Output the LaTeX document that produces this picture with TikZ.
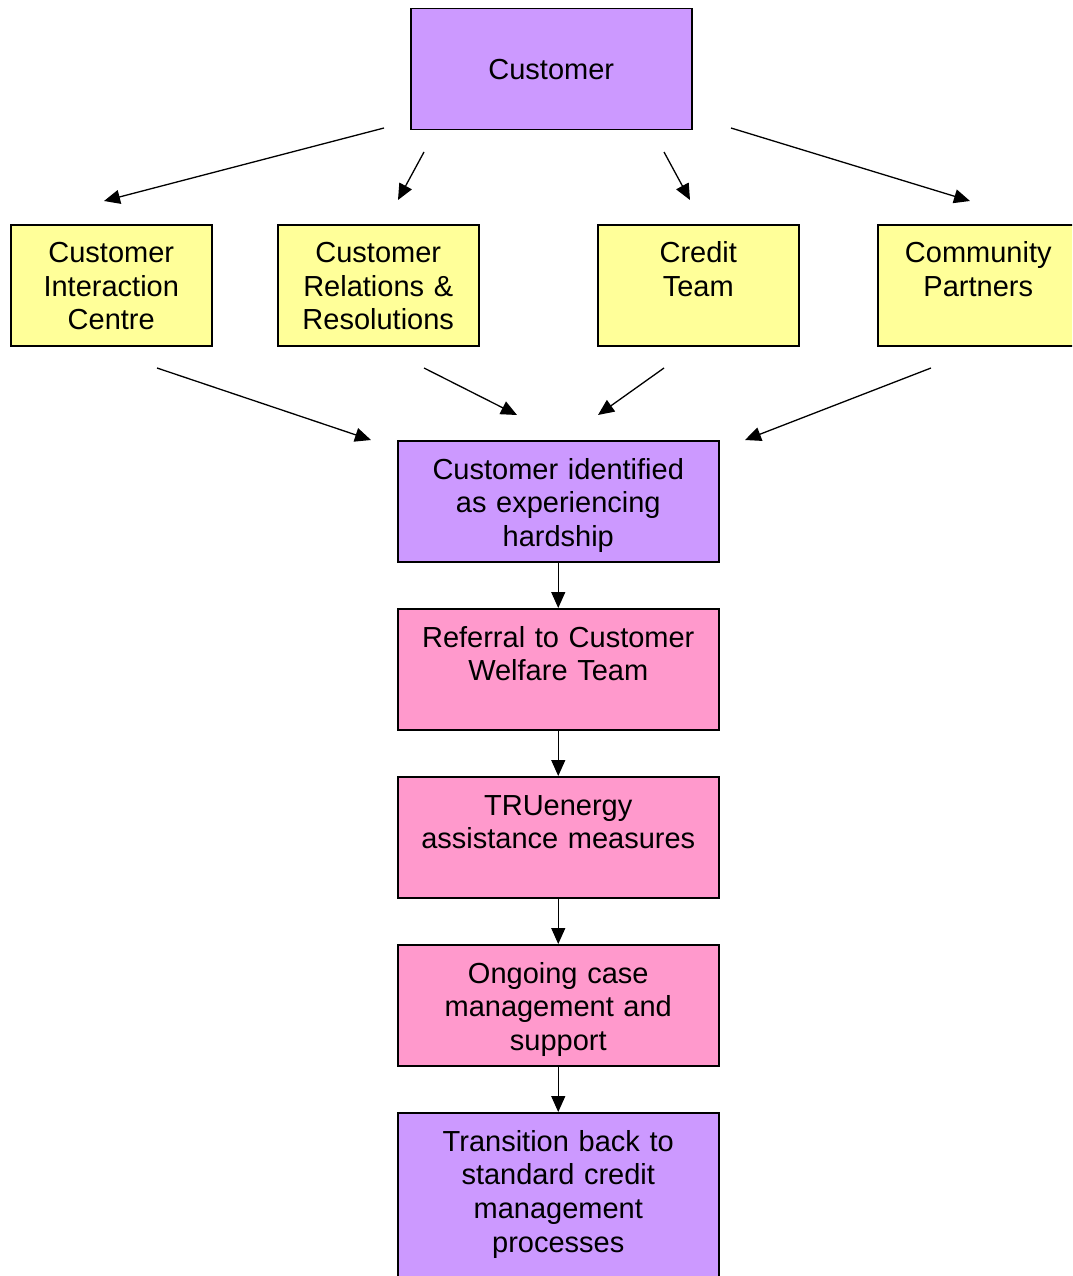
\documentclass[tikz,border=0pt]{standalone}
\usepackage{fontspec}
\setmainfont{Liberation Sans}
\usetikzlibrary{arrows.meta,calc}
\definecolor{lilac}{HTML}{CC99FF}
\definecolor{paleyellow}{HTML}{FFFF99}
\definecolor{rosepink}{HTML}{FF99CC}
\begin{document}
\begin{tikzpicture}[x=1pt,y=-1pt,
  box/.style={draw=black,line width=1.5pt,inner sep=0pt,minimum width=#1,minimum height=121pt,anchor=north west},
  box/.default=201pt,
  txt/.style={font=\fontsize{29}{33.7}\selectfont,text width=#1,align=center,inner sep=0pt,anchor=base},
  txt/.default=201pt,
  arr/.style={line width=1.3pt,-{Triangle[length=16pt,width=14pt]}}]
\useasboundingbox (0,0) rectangle (1072,1276);
\clip (0,0) rectangle (1072,1276);
% boxes
\node[box=281pt,fill=lilac] (cust) at (410,8) {};
\node[box,fill=paleyellow] (cic) at (10,224) {};
\node[box,fill=paleyellow] (crr) at (277,224) {};
\node[box,fill=paleyellow] (cred) at (597,224) {};
\node[box,fill=paleyellow] (comm) at (877,224) {};
\node[box=321pt,fill=lilac] (hard) at (397,440) {};
\node[box=321pt,fill=rosepink] (refer) at (397,608) {};
\node[box=321pt,fill=rosepink] (tru) at (397,776) {};
\node[box=321pt,fill=rosepink] (ongo) at (397,944) {};
\node[box=321pt,minimum height=180pt,fill=lilac] (trans) at (397,1112) {};
% texts
\node[txt=281pt] (custt) at ($(cust.center)+(0,10.5)$) {Customer};
\node[txt] (cict) at ($(cic.north)+(0,38.5)$) {Customer\\Interaction\\Centre};
\node[txt] (crrt) at ($(crr.north)+(0,38.5)$) {Customer\\Relations \&\\Resolutions};
\node[txt] (credt) at ($(cred.north)+(0,38.5)$) {Credit\\Team};
\node[txt] (commt) at ($(comm.north)+(0,38.5)$) {Community\\Partners};
\node[txt=321pt] (hardt) at ($(hard.north)+(0,39)$) {Customer identified\\as experiencing\\hardship};
\node[txt=321pt] (refert) at ($(refer.north)+(0,39)$) {Referral to Customer\\Welfare Team};
\node[txt=321pt] (trut) at ($(tru.north)+(0,39)$) {TRUenergy\\assistance measures};
\node[txt=321pt] (ongot) at ($(ongo.north)+(0,39)$) {Ongoing case\\management and\\support};
\node[txt=321pt] (transt) at ($(trans.north)+(0,39)$) {Transition back to\\standard credit\\management\\processes};
% free arrow ends
\coordinate (s1) at (384,128); \coordinate (e1) at (104,201);
\coordinate (s2) at (424,152); \coordinate (e2) at (398,200);
\coordinate (s3) at (664,152); \coordinate (e3) at (690,200);
\coordinate (s4) at (731,128); \coordinate (e4) at (970,201);
\coordinate (s5) at (157,368); \coordinate (e5) at (371,440);
\coordinate (s6) at (424,368); \coordinate (e6) at (517,415);
\coordinate (s7) at (664,368); \coordinate (e7) at (598,415);
\coordinate (s8) at (931,368); \coordinate (e8) at (745,440);
\draw[arr] (s1) -- (e1);
\draw[arr] (s2) -- (e2);
\draw[arr] (s3) -- (e3);
\draw[arr] (s4) -- (e4);
\draw[arr] (s5) -- (e5);
\draw[arr] (s6) -- (e6);
\draw[arr] (s7) -- (e7);
\draw[arr] (s8) -- (e8);
\draw[arr] (hard.south) -- (refer.north);
\draw[arr] (refer.south) -- (tru.north);
\draw[arr] (tru.south) -- (ongo.north);
\draw[arr] (ongo.south) -- (trans.north);
\end{tikzpicture}
\end{document}
